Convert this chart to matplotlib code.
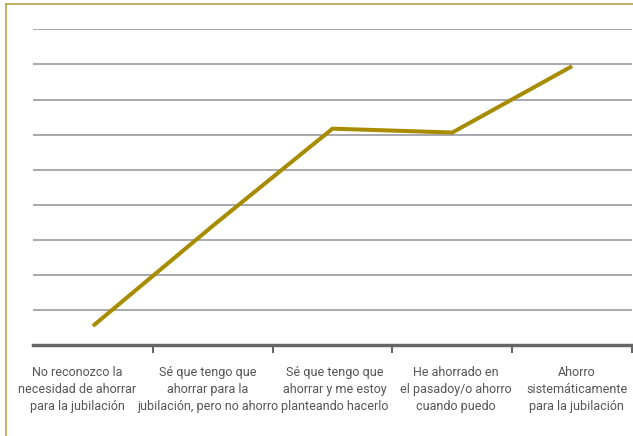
import matplotlib
matplotlib.use('Agg')
import matplotlib.pyplot as plt
from matplotlib.lines import Line2D

# ---------- datos ----------
categorias = [
    'No reconozco la\nnecesidad de ahorrar\npara la jubilación',
    'Sé que tengo que\nahorrar para la\njubilación, pero no ahorro',
    'Sé que tengo que\nahorrar y me estoy\nplanteando hacerlo',
    'He ahorrado en\nel pasadoy/o ahorro\ncuando puedo',
    'Ahorro\nsistemáticamente\npara la jubilación',
]
valores = [0.55, 3.4, 6.17, 6.06, 7.95]
niveles = list(range(1, 10))

# posición de cada etiqueta (algo desplazadas, como en el original)
pos_etiquetas = [-0.13, 0.96, 2.02, 3.03, 4.04]

plt.rcParams['font.family'] = ['Roboto', 'DejaVu Sans']

oro = '#A88C00'
fig = plt.figure(figsize=(6.33, 4.36), dpi=100)
ax = fig.add_axes([33 / 633, (436 - 345.3) / 436, 599 / 633, (345.3 - 29.3) / 436])

for n in niveles:
    ax.axhline(n, color='#A8A8AE', linewidth=1.4, zorder=1)

x = list(range(len(categorias)))
ax.plot(x, valores, color=oro, linewidth=2.9, solid_capstyle='butt', zorder=3)

ax.set_xlim(-0.5, 4.5)
ax.set_ylim(0, 9)
ax.set_yticks([])
ax.set_xticks([i + 0.5 for i in x])
ax.set_xticklabels([])
ax.tick_params(axis='x', direction='out', length=6, width=1.3, color='#555555')
ax.set_xticks(pos_etiquetas, minor=True)
ax.set_xticklabels(categorias, minor=True, fontsize=9, color='#555555', linespacing=1.38)
ax.tick_params(axis='x', which='minor', length=0, pad=15)

for s in ['top', 'right', 'left']:
    ax.spines[s].set_visible(False)
ax.spines['bottom'].set_color('#666666')
ax.spines['bottom'].set_linewidth(2.5)

# marco dorado
fig.add_artist(Line2D([6 / 633, 6 / 633], [0, 1 - 4.3 / 436], transform=fig.transFigure,
                      color='#BCA248', linewidth=1.2))
fig.add_artist(Line2D([6 / 633, 1], [1 - 4.3 / 436, 1 - 4.3 / 436], transform=fig.transFigure,
                      color='#BCA248', linewidth=1.2))

fig.savefig('out.png', dpi=100)
